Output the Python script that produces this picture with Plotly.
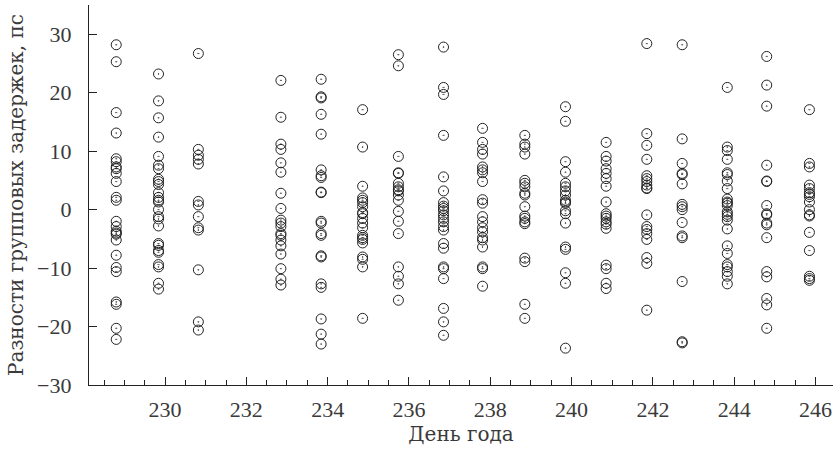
import plotly.graph_objects as go

days = [228.8, 229.84, 230.82, 232.85, 233.84, 234.86, 235.74, 236.85, 237.81,
        238.85, 239.85, 240.85, 241.85, 242.72, 243.83, 244.8, 245.85]

delays = [
    [28.2, 25.3, 16.6, 13.1, 8.7, 8.2, 7.3, 7.0, 6.2, 4.8, 2.1, 1.6, -2.0, -2.9, -3.7, -4.0, -4.2, -5.2, -7.8, -9.9, -10.6, -15.8, -16.2, -20.3, -22.2],
    [23.2, 18.6, 15.7, 12.4, 9.1, 7.6, 7.0, 5.2, 4.8, 4.3, 2.9, 2.1, 1.6, 1.3, 0.0, -1.2, -1.6, -2.8, -5.8, -6.1, -7.0, -7.3, -9.4, -9.8, -12.6, -13.6],
    [26.7, 10.3, 9.3, 8.6, 7.8, 1.4, 0.8, -1.2, -3.1, -3.5, -10.3, -19.2, -20.6],
    [22.1, 15.8, 11.2, 10.3, 8.0, 6.4, 2.8, 0.2, -1.8, -2.3, -2.9, -4.1, -4.4, -5.2, -6.2, -7.6, -10.1, -11.9, -12.9],
    [22.3, 19.3, 19.1, 16.3, 12.9, 6.8, 5.8, 5.5, 3.0, 2.9, -2.0, -2.3, -4.1, -4.4, -7.9, -8.1, -12.7, -13.3, -18.7, -21.3, -23.0],
    [17.1, 10.7, 4.0, 2.0, 1.6, 1.2, 0.5, -0.5, -0.7, -1.5, -2.3, -3.1, -4.4, -4.8, -5.1, -5.7, -8.1, -8.5, -9.8, -18.6],
    [26.5, 24.6, 9.1, 6.3, 6.2, 4.5, 3.9, 3.4, 3.2, 2.5, 1.6, -0.3, -2.0, -4.1, -9.8, -11.4, -12.7, -15.5],
    [27.8, 20.9, 19.7, 12.7, 5.6, 3.2, 1.2, 0.6, 0.2, -0.2, -0.9, -1.5, -2.1, -2.9, -3.5, -5.8, -6.6, -9.8, -10.1, -11.8, -16.9, -19.2, -21.5],
    [13.9, 11.5, 10.3, 9.5, 7.3, 6.8, 6.3, 4.8, 1.7, 1.1, -1.2, -2.1, -3.1, -3.8, -4.8, -5.2, -6.4, -9.8, -10.1, -13.1],
    [12.7, 11.2, 10.7, 9.5, 5.0, 4.5, 3.9, 2.8, 2.5, 0.5, -1.1, -1.5, -2.1, -2.4, -8.3, -8.9, -16.2, -18.6],
    [17.6, 15.1, 8.2, 6.4, 4.5, 3.9, 3.2, 2.5, 1.6, 1.3, 1.1, -0.2, -0.7, -2.3, -6.4, -6.8, -10.8, -12.6, -23.7],
    [11.5, 9.1, 8.3, 7.0, 6.2, 5.3, 4.0, 1.3, -0.7, -1.1, -1.5, -2.1, -2.5, -3.2, -9.5, -10.1, -12.6, -13.5],
    [28.4, 13.0, 11.0, 8.6, 5.8, 5.3, 4.8, 4.2, 3.7, 3.6, -0.9, -2.9, -3.4, -4.1, -5.1, -8.2, -9.2, -17.2],
    [28.2, 12.1, 7.9, 6.2, 6.0, 4.4, 0.9, 0.5, 0.0, -2.2, -4.5, -4.8, -12.3, -22.6, -22.8],
    [20.9, 10.7, 10.1, 8.6, 6.3, 6.0, 4.9, 3.6, 1.8, 1.3, 1.1, 0.7, -0.4, -0.8, -1.2, -1.8, -3.3, -6.2, -7.5, -9.4, -9.8, -10.6, -11.4, -12.7],
    [26.2, 21.3, 17.7, 7.6, 4.9, 4.8, 0.7, -0.7, -0.9, -2.3, -2.6, -4.8, -10.6, -11.5, -15.2, -16.3, -20.3],
    [17.1, 7.9, 7.3, 4.2, 3.6, 2.9, 2.6, 2.2, 1.3, 0.0, -0.9, -1.1, -3.9, -7.0, -11.4, -11.8, -12.1],
]

x_ticks = [230, 232, 234, 236, 238, 240, 242, 244, 246]
y_ticks = [-30, -20, -10, 0, 10, 20, 30]

xs, ys = [], []
for d, vals in zip(days, delays):
    xs.extend([d] * len(vals))
    ys.extend(vals)

TICK_FONT = "Liberation Serif"
TITLE_FONT = "DejaVu Serif"
INK = "#3a3a3a"
LINE = "#222222"

fig = go.Figure(go.Scatter(
    x=xs, y=ys, mode="markers",
    marker=dict(symbol="circle-open-dot", size=10, color="#222222",
                line=dict(width=1, color="#222222")),
    showlegend=False,
))

fig.update_layout(
    width=838, height=455,
    margin=dict(l=89, r=5, t=5, b=70),
    paper_bgcolor="white", plot_bgcolor="white",
    font=dict(family=TICK_FONT, size=22, color=INK),
)

fig.update_xaxes(
    range=[228.13, 246.43], tickvals=x_ticks, ticktext=[str(v) for v in x_ticks],
    automargin=False,
    showgrid=False, zeroline=False, showline=True, linecolor=LINE, linewidth=1.3,
    ticks="inside", ticklen=8, tickwidth=1.2, tickcolor=LINE,
    minor=dict(dtick=0.5, tick0=230, ticks="inside", ticklen=5, tickwidth=1, tickcolor=LINE),
    ticklabelstandoff=4,
    title=dict(text="День года", standoff=6, font=dict(family=TITLE_FONT, size=20, color=INK)),
    tickfont=dict(family=TICK_FONT, size=22, color=INK),
)
fig.update_yaxes(
    range=[-30, 35], tickvals=y_ticks,
    automargin=False,
    showgrid=False, zeroline=False, showline=True, linecolor=LINE, linewidth=1.3,
    ticks="inside", ticklen=8, tickwidth=1.2, tickcolor=LINE,
    ticklabelstandoff=12,
    title=dict(text="Разности групповых задержек, пс", standoff=8,
               font=dict(family=TITLE_FONT, size=20, color=INK)),
    tickfont=dict(family=TICK_FONT, size=22, color=INK),
)

fig.write_html("out.html", config={"displayModeBar": False},
               post_script="document.body.style.margin='0';")
